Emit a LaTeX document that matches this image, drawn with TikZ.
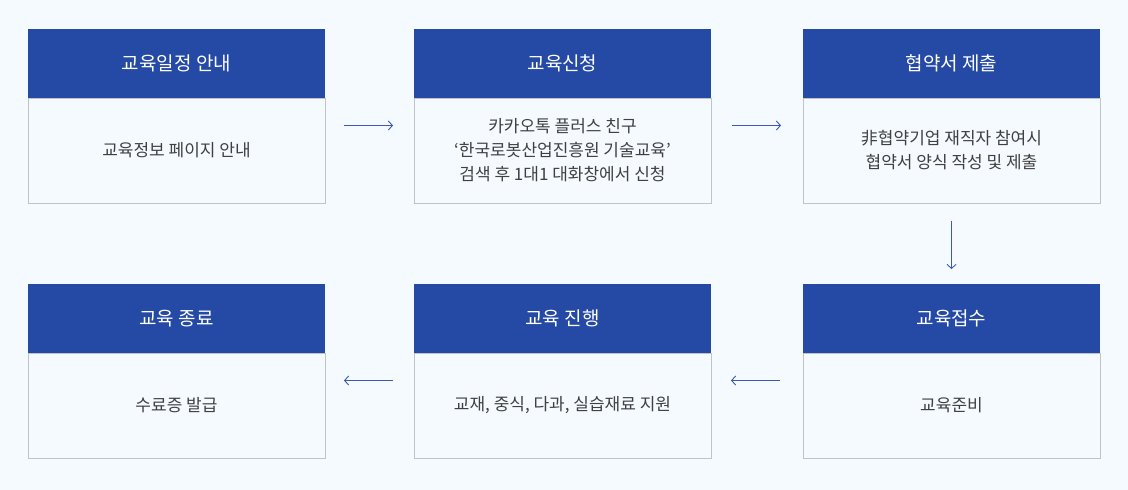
\documentclass[tikz,border=0pt]{standalone}
\usepackage{fontspec}
\setmainfont{Noto Sans CJK KR}
\usetikzlibrary{arrows.meta, positioning}
\definecolor{pagebg}{RGB}{245, 250, 254}
\definecolor{headblue}{RGB}{37, 74, 165}
\definecolor{boxgray}{RGB}{192, 196, 202}
\definecolor{bodytext}{RGB}{64, 64, 64}
\definecolor{arrowblue}{RGB}{60, 90, 180}
\tikzset{
  head/.style={fill=headblue, text=white, minimum width=297pt, minimum height=69pt,
    inner sep=0pt, outer sep=0pt, font=\fontsize{19}{22}\selectfont},
  body/.style={draw=boxgray, fill=pagebg, minimum width=297pt, minimum height=105pt,
    inner sep=0pt, outer sep=0pt, text=bodytext, align=center, font=\fontsize{17}{24}\selectfont},
  flow/.style={arrowblue, line width=0.9pt, -{Straight Barb[length=4pt,width=9pt]}}
}

\begin{document}
\begin{tikzpicture}[x=1pt, y=1pt]
\fill[pagebg] (0,0) rectangle (1128,-490);
\useasboundingbox (0,0) rectangle (1128,-490);

% top row
\node[head] (head1) at (176.5,-63.5) {교육일정 안내};
\node[body, below=0pt of head1] (body1) {교육정보 페이지 안내};

\node[head, right=89pt of head1] (head2) {교육신청};
\node[body, below=0pt of head2] (body2) {카카오톡 플러스 친구\\‘한국로봇산업진흥원 기술교육’\\검색 후 1대1 대화창에서 신청};

\node[head, right=92pt of head2] (head3) {협약서 제출};
\node[body, below=0pt of head3] (body3) {非협약기업 재직자 참여시\\협약서 양식 작성 및 제출};

% bottom row
\node[head, below=81pt of body3] (head4) {교육접수};
\node[body, below=0pt of head4] (body4) {교육준비};

\node[head, below=81pt of body2] (head5) {교육 진행};
\node[body, below=0pt of head5] (body5) {교재, 중식, 다과, 실습재료 지원};

\node[head, below=81pt of body1] (head6) {교육 종료};
\node[body, below=0pt of head6] (body6) {수료증 발급};

% arrows
\draw[flow] ([xshift=19pt, yshift=25pt]body1.east) -- ([xshift=-21pt, yshift=25pt]body2.west);
\draw[flow] ([xshift=21pt, yshift=25pt]body2.east) -- ([xshift=-22pt, yshift=25pt]body3.west);
\draw[flow] ([yshift=-18pt]body3.south) -- ([yshift=15pt]head4.north);
\draw[flow] ([xshift=-23pt, yshift=25pt]body4.west) -- ([xshift=20pt, yshift=25pt]body5.east);
\draw[flow] ([xshift=-21pt, yshift=25pt]body5.west) -- ([xshift=19pt, yshift=25pt]body6.east);
\end{tikzpicture}
\end{document}
